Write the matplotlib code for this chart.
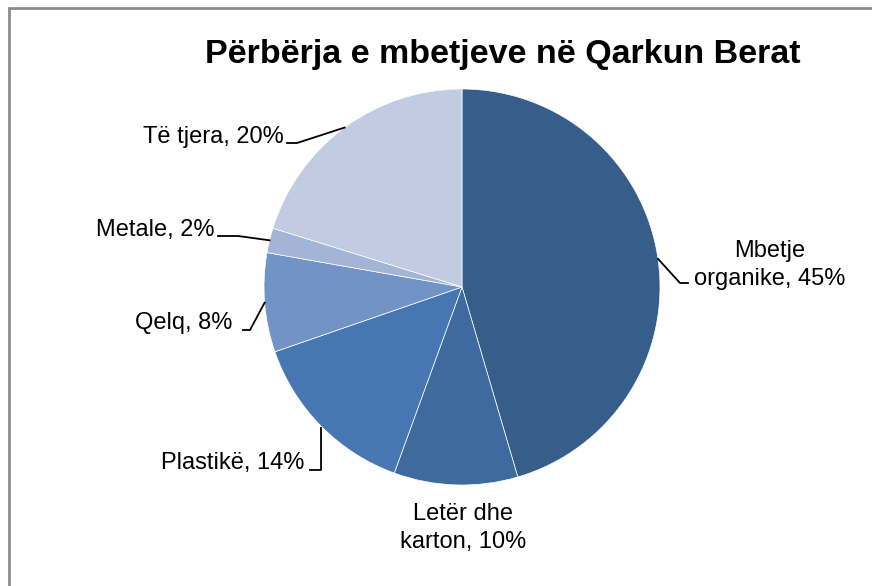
import numpy as np
import matplotlib.pyplot as plt
from matplotlib.patches import Rectangle

plt.rcParams['font.family'] = ['Liberation Sans', 'DejaVu Sans']

labels = ["Mbetje\norganike, 45%", "Letër dhe\nkarton, 10%", "Plastikë, 14%",
          "Qelq, 8%", "Metale, 2%", "Të tjera, 20%"]
values = [45, 10, 14, 8, 2, 20]
colors = ["#375D8A", "#3F6A9E", "#4677B2", "#7293C6", "#A3B5D6", "#C1CCE2"]

W, H = 872, 586
cx, cy, R = 462, 287, 198

fig = plt.figure(figsize=(W / 100, H / 100), dpi=100)
fig.patches.append(Rectangle((9 / W, -0.1), 1.2, (H - 8) / H + 0.1, transform=fig.transFigure,
                             fill=False, edgecolor="#8c8c8c", linewidth=2))

ax = fig.add_axes([(cx - R) / W, (H - cy - R) / H, 2 * R / W, 2 * R / H])
wedges, _ = ax.pie(values, colors=colors, startangle=90, counterclock=False,
                   wedgeprops=dict(edgecolor="white", linewidth=0.5))
ax.set_xlim(-1, 1)
ax.set_ylim(-1, 1)
ax.set_aspect("equal")
ax.axis("off")


def px(x, y):
    return (x - cx) / R, (cy - y) / R


# label text position (px), alignment, elbow points (px)
label_pos = [
    ((770, 265), "center", [(680, 283), (688, 283)]),
    ((463, 528), "center", None),
    ((304, 463), "right", [(321, 470), (310, 470)]),
    ((232, 323), "right", [(250, 330), (243, 330)]),
    ((214, 230), "right", [(238, 236), (218, 236)]),
    ((284, 137), "right", [(297, 143), (287, 143)]),
]

for w, lab, (tp, ha, elbow) in zip(wedges, labels, label_pos):
    ang = np.deg2rad((w.theta1 + w.theta2) / 2)
    sx, sy = np.cos(ang), np.sin(ang)
    if elbow is not None:
        if lab.startswith("Plastik"):
            pts = [px(321, 428)] + [px(*p) for p in elbow]
        else:
            pts = [(sx, sy)] + [px(*p) for p in elbow]
        xs, ys = zip(*pts)
        ax.plot(xs, ys, color="black", linewidth=1.3, clip_on=False)
    tx, ty = px(*tp)
    ax.text(tx, ty, lab, ha=ha, va="center", fontsize=17, linespacing=1.35,
            multialignment="center")

fig.text(503 / W, 1 - 54 / H, "Përbërja e mbetjeve në Qarkun Berat", ha="center",
         va="center", fontsize=24.5, fontweight="bold")

fig.savefig("out.png", dpi=100)
